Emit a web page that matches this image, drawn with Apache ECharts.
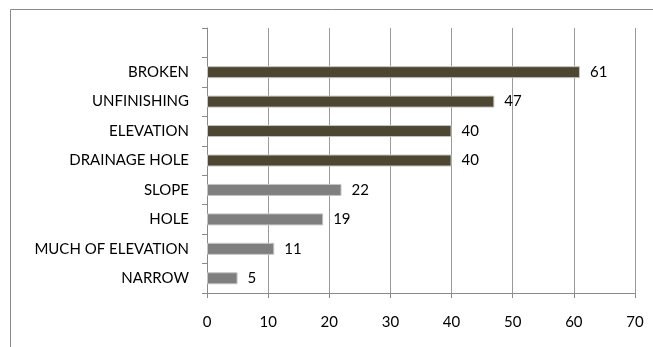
<!DOCTYPE html>
<html><head><meta charset="utf-8">
<script src="https://cdn.jsdelivr.net/npm/echarts@6/dist/echarts.min.js"></script>
<style>html,body{margin:0;padding:0;background:#fff}#c{width:653px;height:347px}</style>
</head><body><div id="c"></div>
<script>
const categories = ['NARROW','MUCH OF ELEVATION','HOLE','SLOPE','DRAINAGE HOLE','ELEVATION','UNFINISHING','BROKEN',''];
const values = [5, 11, 19, 22, 40, 40, 47, 61, null];
const xTicks = [0, 70, 10];

const chart = echarts.init(document.getElementById('c'), null, {renderer:'canvas'});
const font = 'Lato, "Open Sans", sans-serif';
chart.setOption({
  animation: false,
  graphic: [{type:'rect', shape:{x:10.5,y:9.5,width:700,height:400}, style:{fill:'none', stroke:'#8a8a8a', lineWidth:1}, z:-1}],
  grid: {left: 207, right: 18, top: 28, bottom: 54, containLabel:false},
  xAxis: {
    type:'value', min:xTicks[0], max:xTicks[1], interval:xTicks[2],
    axisLine:{show:true, lineStyle:{color:'#8a8a8a'}},
    axisTick:{show:true, length:5, lineStyle:{color:'#8a8a8a'}},
    splitLine:{show:true, lineStyle:{color:'#9a9a9a'}},
    axisLabel:{color:'#000', fontFamily:font, fontSize:15, margin:22}
  },
  yAxis: {
    type:'category', data:categories,
    axisLine:{show:true, lineStyle:{color:'#8a8a8a'}},
    axisTick:{show:true, length:5, lineStyle:{color:'#8a8a8a'}},
    axisLabel:{color:'#000', fontFamily:font, fontSize:15, margin:18}
  },
  series: [{
    type:'bar', data:values, barWidth:12,
    itemStyle:{
      color: p => p.dataIndex >= 4 ? '#4d4630' : '#7f7f7f',
      borderColor:'#c4c4c4', borderWidth:1
    },
    label:{show:true, position:'right', distance:10, color:'#000', fontFamily:font, fontSize:15}
  }]
});
</script></body></html>
